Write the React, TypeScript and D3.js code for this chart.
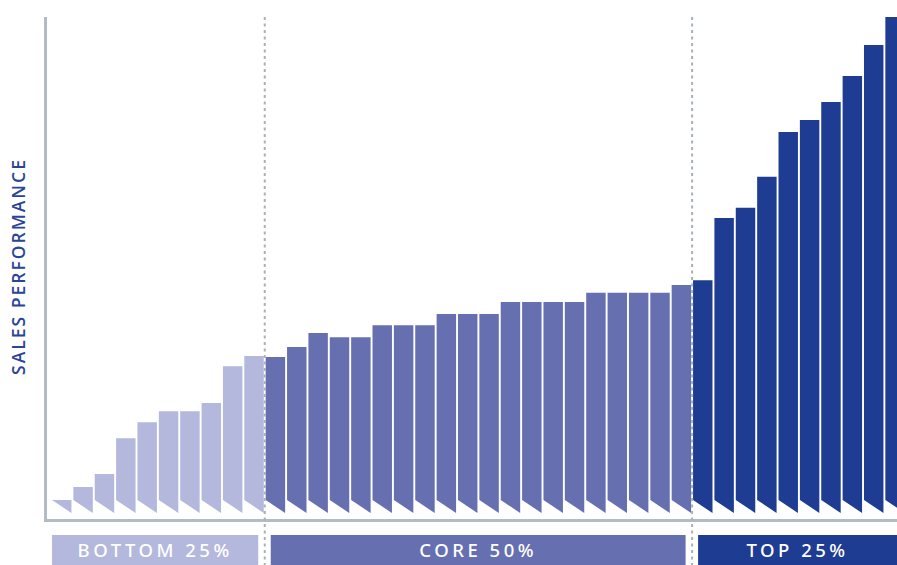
import * as d3 from "d3";

// sales performance per rep, sorted ascending (0 = lowest)
const performance = [
  0, 2.7, 5.4, 12.8, 16.1, 18.4, 18.4, 20.1, 27.7, 29.8,
  29.6, 31.7, 34.6, 33.7, 33.7, 36.2, 36.2, 36.2, 38.5, 38.5,
  38.5, 41.0, 41.0, 41.0, 41.0, 42.9, 42.9, 42.9, 42.9, 44.5,
  45.5, 58.4, 60.5, 66.9, 76.2, 78.7, 82.4, 87.8, 94.2, 100,
];
const groupLabels = ["BOTTOM 25%", "CORE 50%", "TOP 25%"];
const groupCounts = [10, 20, 10];
const groupColors = ["#b4b8dc", "#6670b1", "#1e3c92"];
const yLabel = "SALES PERFORMANCE";

const W = 897;
const H = 565;
const AXIS_X = 45.5;
const AXIS_Y = 520.5;
const BASE_L = 500; // bar bottom, left corner
const BASE_R = 513; // bar bottom, right corner
const STEP = 21.32;

export default function App() {
  const x = d3
    .scaleBand<number>()
    .domain(d3.range(performance.length))
    .range([52, 52 + STEP * performance.length])
    .paddingInner(0.09)
    .paddingOuter(0);
  const y = d3.scaleLinear().domain([0, 100]).range([BASE_L, 17]);

  const groupStart = Array.from(d3.cumsum([0, ...groupCounts]));
  const groupOf = (i: number) => groupStart.findIndex((s, g) => i >= s && i < groupStart[g + 1]);
  const gap = STEP - x.bandwidth();
  const dividers = groupStart.slice(1, -1).map((s) => (x(s) ?? 0) - gap / 2);

  return (
    <svg width={W} height={H} style={{ position: "absolute", left: 0, top: 0 }}>
      <rect width={W} height={H} fill="#ffffff" />

      {/* bars with slanted bottoms */}
      {performance.map((v, i) => {
        const x0 = x(i) ?? 0;
        const x1 = x0 + x.bandwidth();
        const top = y(v);
        const pts = [
          [x0, top],
          [x1, top],
          [x1, BASE_R],
          [x0, BASE_L],
        ];
        return (
          <polygon
            key={i}
            points={pts.map((p) => p.join(",")).join(" ")}
            fill={groupColors[groupOf(i)]}
          />
        );
      })}

      {/* axes */}
      <line x1={AXIS_X} x2={AXIS_X} y1={17} y2={AXIS_Y + 1.5} stroke="#b3bcc2" strokeWidth={3} />
      <line x1={AXIS_X} x2={W} y1={AXIS_Y} y2={AXIS_Y} stroke="#b3bcc2" strokeWidth={3} />

      {/* group dividers */}
      {dividers.map((dx, i) => (
        <line
          key={i}
          x1={dx}
          x2={dx}
          y1={17}
          y2={H}
          stroke="#a9b1b8"
          strokeWidth={2}
          strokeDasharray="3,3.5"
        />
      ))}

      {/* group labels */}
      {groupLabels.map((label, g) => {
        const left = g === 0 ? x(0) ?? 0 : dividers[g - 1] + 6;
        const right = g < dividers.length ? dividers[g] - 6.5 : W + 10;
        const cx = g === groupLabels.length - 1 ? (left + W) / 2 : (left + right) / 2;
        return (
          <g key={label}>
            <rect x={left} y={535} width={right - left} height={H - 535} fill={groupColors[g]} />
            <text
              x={cx}
              y={557}
              textAnchor="middle"
              fill="#ffffff"
              fontFamily="'Noto Sans', sans-serif"
              fontWeight={500}
              fontSize={18.5}
              letterSpacing={3.5}
            >
              {label}
            </text>
          </g>
        );
      })}

      {/* y label */}
      <text
        transform={`translate(25,266.5) rotate(-90)`}
        textAnchor="middle"
        fill="#2a4597"
        fontFamily="'Open Sans', sans-serif"
        fontWeight={600}
        fontSize={17.5}
        letterSpacing={2}
      >
        {yLabel}
      </text>
    </svg>
  );
}
